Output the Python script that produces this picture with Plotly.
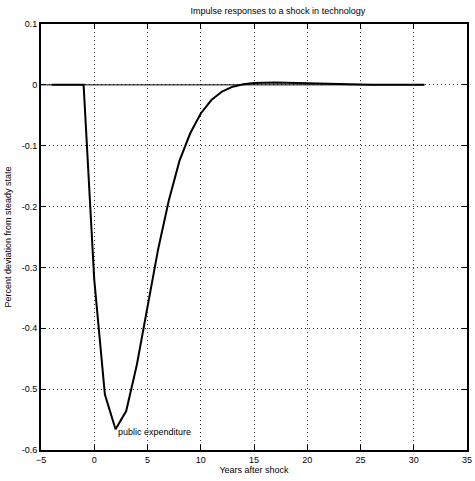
import plotly.graph_objects as go

years = [-4, -3, -2, -1, 0, 1, 2, 3, 4, 5, 6, 7, 8, 9, 10, 11, 12, 13, 14, 15, 16, 17, 18, 19, 20,
         21, 22, 23, 24, 25, 26, 27, 28, 29, 30, 31]
response = [0, 0, 0, 0, -0.32, -0.509, -0.566, -0.536, -0.46, -0.365, -0.27, -0.19, -0.125, -0.08,
            -0.047, -0.025, -0.011, -0.003, 0.001, 0.003, 0.004, 0.004, 0.0035, 0.003, 0.002,
            0.0015, 0.001, 0.0008, 0.0005, 0.0003, 0.0002, 0.0001, 0.0, 0.0, 0.0, 0.0]
zero_x = [-5, 31]
zero_y = [0, 0]
x_ticks = [-5, 0, 5, 10, 15, 20, 25, 30, 35]
y_ticks = [0.1, 0, -0.1, -0.2, -0.3, -0.4, -0.5, -0.6]
y_labels = ["0.1", "0", "-0.1", "-0.2", "-0.3", "-0.4", "-0.5", "-0.6"]

font = dict(family="Liberation Sans, Arial", size=9, color="black")

fig = go.Figure()
fig.add_trace(go.Scatter(x=zero_x, y=zero_y, mode="lines",
                         line=dict(color="black", width=1), showlegend=False, hoverinfo="skip"))
fig.add_trace(go.Scatter(x=years, y=response, mode="lines",
                         line=dict(color="black", width=2), showlegend=False))

fig.add_annotation(x=2, y=-0.571, text="public expenditure", showarrow=False,
                   xanchor="left", yanchor="middle", font=font)

axis_common = dict(showline=True, linecolor="black", linewidth=2, mirror="ticks",
                   ticks="inside", ticklen=5, tickcolor="black", tickwidth=1,
                   showgrid=True, gridcolor="#333333", gridwidth=1, griddash="1px,3px",
                   zeroline=False, tickfont=font, automargin=False)

fig.update_layout(
    width=475, height=481,
    margin=dict(l=41, r=8, t=24, b=31),
    paper_bgcolor="white", plot_bgcolor="white",
    title=dict(text="Impulse responses to a shock in technology", x=0.585, xanchor="center",
               y=0.978, yanchor="middle", font=font),
    xaxis=dict(range=[-5, 35], tickvals=x_ticks, title=dict(text="Years after shock", font=font, standoff=3),
               **axis_common),
    yaxis=dict(range=[-0.6, 0.1], tickvals=y_ticks, ticktext=y_labels,
               title=dict(text="Percent deviation from steady state", font=font, standoff=9),
               **axis_common),
)

fig.write_html("out.html")
